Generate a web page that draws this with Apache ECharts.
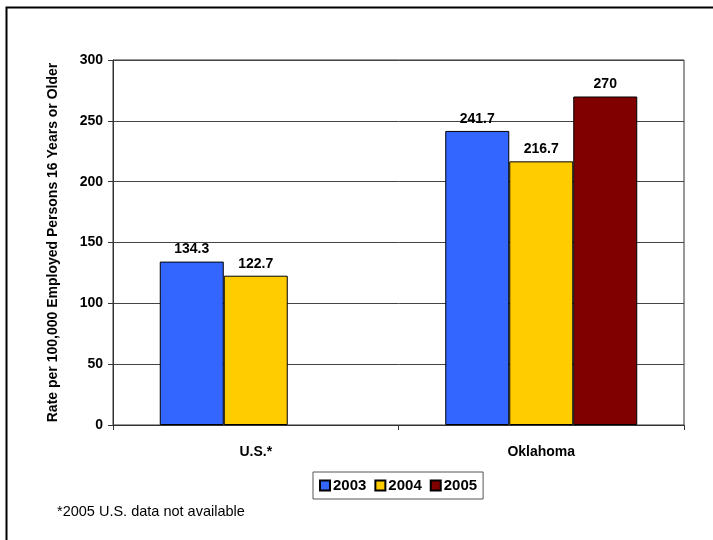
<!DOCTYPE html>
<html><head><meta charset="utf-8">
<script src="https://cdn.jsdelivr.net/npm/echarts@6/dist/echarts.min.js"></script>
<style>html,body{margin:0;padding:0;background:#fff}#c{width:713px;height:540px}</style>
</head><body><div id="c"></div>
<script>
const categories = ['U.S.*', 'Oklahoma'];
const years = ['2003', '2004', '2005'];
const values2003 = [134.3, 241.7];
const values2004 = [122.7, 216.7];
const values2005 = [null, 270];
const colors = ['#3366FF', '#FFCC00', '#800000'];
const yAxisTitle = 'Rate per 100,000 Employed Persons 16 Years or Older';
const footnote = '*2005 U.S. data not available';

const FONT = '"Liberation Sans Narrow", "Arial Narrow", "Liberation Sans", sans-serif';
const chart = echarts.init(document.getElementById('c'), null, {renderer: 'canvas'});
const seriesData = [values2003, values2004, values2005];
chart.setOption({
  animation: false,
  backgroundColor: '#fff',
  grid: {left: 113, top: 60, width: 571, height: 365, show: true, borderColor: '#333', borderWidth: 1, backgroundColor: 'transparent'},
  legend: {
    data: years, left: 313, top: 472, itemWidth: 10, itemHeight: 10, itemGap: 8,
    borderColor: '#555', borderWidth: 1, padding: [6, 6, 6, 6],
    textStyle: {fontFamily: FONT, fontWeight: 'bold', fontSize: 15, color: '#000', padding: [0, 0, 0, -2]},
    icon: 'rect'
  },
  xAxis: {
    type: 'category', data: categories,
    axisLine: {lineStyle: {color: '#333', width: 1}},
    axisTick: {show: true, length: 5, lineStyle: {color: '#333'}},
    axisLabel: {fontFamily: FONT, fontWeight: 'bold', fontSize: 14, color: '#000', margin: 20}
  },
  yAxis: {
    type: 'value', min: 0, max: 300, interval: 50,
    name: yAxisTitle, nameLocation: 'middle', nameGap: 53, nameRotate: 90,
    nameTextStyle: {fontFamily: FONT, fontWeight: 'bold', fontSize: 14, color: '#000'},
    axisLine: {show: true, lineStyle: {color: '#333'}},
    axisTick: {show: true, length: 5, inside: false, lineStyle: {color: '#333'}},
    splitLine: {lineStyle: {color: '#444', width: 1}},
    axisLabel: {fontFamily: FONT, fontWeight: 'bold', fontSize: 14, color: '#000', margin: 10}
  },
  series: years.map((y, i) => ({
    name: y, type: 'bar', data: seriesData[i],
    barWidth: 64, barGap: '0%',
    itemStyle: {color: colors[i], borderColor: '#000', borderWidth: 1},
    label: {show: true, position: 'top', distance: 5, fontFamily: FONT, fontWeight: 'bold', fontSize: 14, color: '#000'}
  })),
  graphic: [
    {type: 'rect', shape: {x: 6.5, y: 7.5, width: 720, height: 560}, style: {fill: 'none', stroke: '#000', lineWidth: 2}, silent: true},
    {type: 'text', left: 57, top: 504, style: {text: footnote, fontFamily: FONT, fontSize: 14.5, fill: '#000'}}
  ]
});
</script></body></html>
